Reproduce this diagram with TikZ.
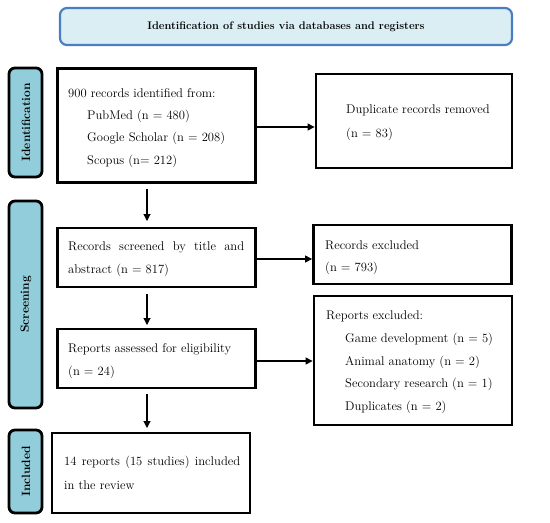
\documentclass[tikz,border=0pt]{standalone}
\usetikzlibrary{arrows.meta}
\definecolor{hdrfill}{HTML}{DAEEF3}
\definecolor{hdrline}{HTML}{4A7EC0}
\definecolor{sidefill}{HTML}{92CDDC}
\begin{document}
\begin{tikzpicture}[x=1pt,y=-1pt,
  box/.style={draw=black,line width=2.8pt,fill=white,inner sep=0pt},
  side/.style={draw=black,line width=2.8pt,fill=sidefill,rounded corners=6pt},
  sidetext/.style={rotate=90,font=\bfseries\fontsize{12}{14}\selectfont},
  txt/.style={anchor=west,font=\fontsize{12.6}{14}\selectfont,inner sep=0pt},
  arr/.style={-{Triangle[length=7pt,width=7pt]},line width=1.1pt}]
\useasboundingbox (0,0) rectangle (550,523);
% header
\draw[draw=hdrline,line width=2.2pt,fill=hdrfill,rounded corners=7pt] (60,8) rectangle (512,45);
\node[font=\bfseries\fontsize{11}{13}\selectfont] (hdr) at (286,27) {Identification of studies via databases and registers};
% side labels
\draw[side] (9,68) rectangle (42,177);
\node[sidetext] (sid) at (26,122.5) {Identification};
\draw[side] (9,201) rectangle (42,408);
\node[sidetext] (sscr) at (26,304.5) {Screening};
\draw[side] (9,430) rectangle (42,513);
\node[sidetext] (sinc) at (26,471.5) {Included};
% boxes
\node[box,minimum width=198pt,minimum height=114pt] (b1) at (156.5,125.5) {};
\node[txt] at (68,93) {900 records identified from:};
\node[txt] at (87,116) {PubMed (n = 480)};
\node[txt] at (87,138) {Google Scholar (n = 208)};
\node[txt] at (87,161) {Scopus (n= 212)};

\node[box,minimum width=196pt,minimum height=94pt] (b2) at (414,121) {};
\node[txt] at (346,110) {Duplicate records removed};
\node[txt] at (346,134) {(n = 83)};

\node[box,minimum width=198pt,minimum height=59pt] (b3) at (156.5,257.5) {};
\node[txt,text width=176pt,align=justify] at (68,247) {Records\hfill screened\hfill by\hfill title\hfill and};
\node[txt] at (68,270) {abstract (n = 817)};

\node[box,minimum width=198pt,minimum height=59pt] (b4) at (412.5,254.5) {};
\node[txt] at (325,245) {Records excluded};
\node[txt] at (325,268) {(n = 793)};

\node[box,minimum width=198pt,minimum height=59pt] (b5) at (156.5,358.5) {};
\node[txt] at (68,349) {Reports assessed for eligibility};
\node[txt] at (68,372) {(n = 24)};

\node[box,minimum width=198pt,minimum height=129pt] (b6) at (413,360.5) {};
\node[txt] at (326,316) {Reports excluded:};
\node[txt] at (345,339) {Game development (n = 5)};
\node[txt] at (345,362) {Animal anatomy (n = 2)};
\node[txt] at (345,384) {Secondary research (n = 1)};
\node[txt] at (345,407) {Duplicates (n = 2)};

\node[box,minimum width=198pt,minimum height=80pt] (b7) at (151,473) {};
\node[txt,text width=176pt] at (64,462) {14\hfill reports\hfill (15\hfill studies)\hfill included};
\node[txt] at (64,485) {in the review};

% arrows
\coordinate (a1s) at (147,189); \coordinate (a1e) at (147,221);
\draw[arr] (a1s) -- (a1e);
\coordinate (a2s) at (147,294); \coordinate (a2e) at (147,325);
\draw[arr] (a2s) -- (a2e);
\coordinate (a3s) at (147,394); \coordinate (a3e) at (147,428);
\draw[arr] (a3s) -- (a3e);
\draw[arr] (b1.east |- 0,127) -- (b2.west |- 0,127);
\draw[arr] (b3.east |- 0,259) -- (b4.west |- 0,259);
\draw[arr] (b5.east |- 0,361) -- (b6.west |- 0,361);
\end{tikzpicture}
\end{document}
